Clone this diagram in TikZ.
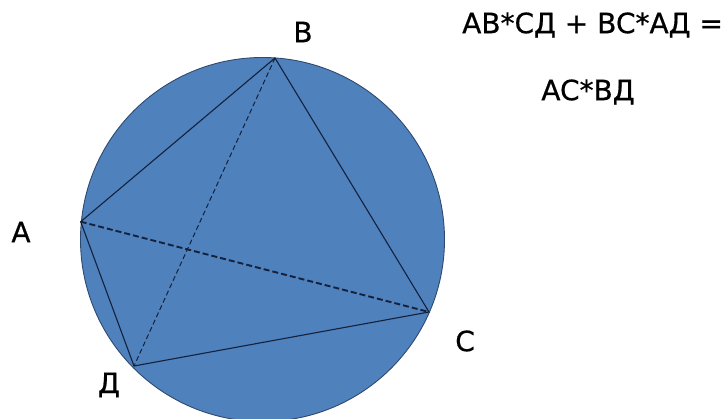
\documentclass[tikz,border=0pt]{standalone}
\usepackage{fontspec}
\setmainfont{DejaVu Sans}
\newfontfamily\lblfont[FakeBold=0.6]{DejaVu Sans}
\definecolor{diskblue}{HTML}{4F81BD}
\definecolor{rimblue}{HTML}{2E4A70}
\definecolor{chordnavy}{HTML}{14213D}
\begin{document}
\begin{tikzpicture}[x=1pt,y=-1pt,
  chord/.style={draw=chordnavy,line width=1.1pt},
  diag/.style={draw=chordnavy,line width=1.0pt,dash pattern=on 5pt off 3pt},
  diagbold/.style={draw=chordnavy,line width=1.9pt,dash pattern=on 6pt off 3pt},
  lbl/.style={font=\lblfont\fontsize{28}{32}\selectfont,inner sep=0pt,anchor=center}]
\useasboundingbox (0,0) rectangle (725,419);
\fill[diskblue,draw=rimblue,line width=0.9pt] (262.5,239.5) circle[radius=182];
\coordinate (A) at (80.7,221.7);
\coordinate (B) at (275,58);
\coordinate (C) at (429,312);
\coordinate (D) at (134,366);
\draw[chord] (A) -- (B) -- (C) -- (D) -- cycle;
\draw[diag] (B) -- (D);
\draw[diagbold] (A) -- (C);
\node[lbl] (lA) at (21,232) {A};
\node[lbl] (lB) at (303,32) {B};
\node[lbl] (lC) at (465,341) {C};
\node[lbl] (lD) at (109,385) {Д};
\node[lbl,anchor=west] (eq1) at (462,25) {AB*CД + BC*AД =};
\node[lbl] (eq2) at (588,92) {AC*BД};
\end{tikzpicture}
\end{document}
